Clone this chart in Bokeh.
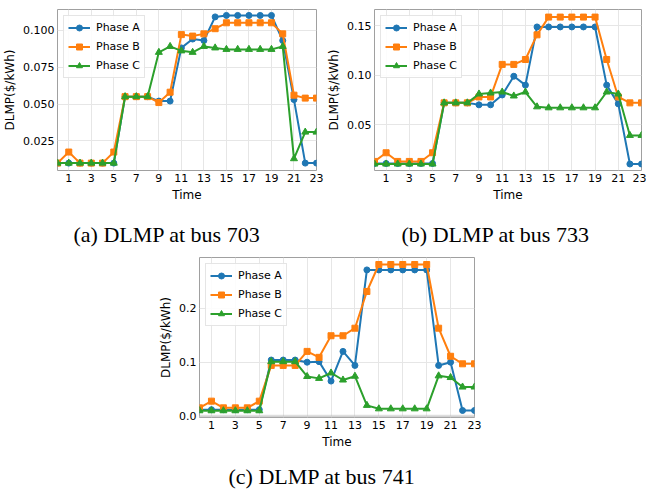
from bokeh.plotting import figure
from bokeh.models import FixedTicker, NumeralTickFormatter, Title, Span, Spacer
from bokeh.layouts import column, row
from bokeh.embed import file_html
from bokeh.resources import INLINE

hours = list(range(24))
x_ticks = [1, 3, 5, 7, 9, 11, 13, 15, 17, 19, 21, 23]

# DLMP at bus 703 ($/kWh)
bus703_A = [0.010, 0.010, 0.010, 0.010, 0.010, 0.010, 0.055, 0.055, 0.055, 0.052, 0.052, 0.088,
            0.094, 0.093, 0.109, 0.110, 0.110, 0.110, 0.110, 0.110, 0.093, 0.053, 0.010, 0.010]
bus703_B = [0.010, 0.0175, 0.010, 0.010, 0.010, 0.0175, 0.055, 0.055, 0.055, 0.051, 0.058, 0.097,
            0.096, 0.0975, 0.101, 0.105, 0.105, 0.105, 0.105, 0.105, 0.0975, 0.056, 0.054, 0.054]
bus703_C = [0.010, 0.010, 0.010, 0.010, 0.010, 0.010, 0.055, 0.055, 0.055, 0.085, 0.089, 0.086,
            0.085, 0.089, 0.088, 0.087, 0.087, 0.087, 0.087, 0.087, 0.089, 0.013, 0.031, 0.031]

# DLMP at bus 733
bus733_A = [0.0105, 0.0105, 0.0105, 0.0105, 0.0105, 0.0105, 0.072, 0.072, 0.072, 0.070, 0.070, 0.080,
            0.099, 0.090, 0.149, 0.149, 0.149, 0.149, 0.149, 0.149, 0.090, 0.071, 0.010, 0.010]
bus733_B = [0.0126, 0.0214, 0.0126, 0.0126, 0.0126, 0.0214, 0.072, 0.072, 0.072, 0.078, 0.078, 0.111,
            0.111, 0.116, 0.141, 0.159, 0.159, 0.159, 0.159, 0.159, 0.116, 0.078, 0.072, 0.072]
bus733_C = [0.010, 0.010, 0.010, 0.010, 0.010, 0.010, 0.072, 0.072, 0.072, 0.081, 0.082, 0.083,
            0.079, 0.083, 0.068, 0.067, 0.067, 0.067, 0.067, 0.067, 0.083, 0.081, 0.039, 0.039]

# DLMP at bus 741
bus741_A = [0.012, 0.012, 0.012, 0.012, 0.012, 0.012, 0.104, 0.104, 0.104, 0.100, 0.101, 0.065,
            0.120, 0.094, 0.271, 0.271, 0.271, 0.271, 0.271, 0.271, 0.094, 0.100, 0.0105, 0.0105]
bus741_B = [0.0154, 0.0278, 0.0154, 0.0154, 0.0154, 0.0278, 0.094, 0.094, 0.094, 0.120, 0.109, 0.149,
            0.149, 0.163, 0.231, 0.281, 0.281, 0.281, 0.281, 0.281, 0.163, 0.111, 0.097, 0.097]
bus741_C = [0.010, 0.010, 0.010, 0.010, 0.010, 0.010, 0.101, 0.101, 0.101, 0.0735, 0.070, 0.080,
            0.067, 0.074, 0.020, 0.0136, 0.0136, 0.0136, 0.0136, 0.0136, 0.0747, 0.0716, 0.054, 0.054]

y_ticks_703 = [0.025, 0.050, 0.075, 0.100]
y_ticks_733 = [0.05, 0.10, 0.15]
y_ticks_741 = [0.0, 0.1, 0.2]

captions = ["(a) DLMP at bus 703", "(b) DLMP at bus 733", "(c) DLMP at bus 741"]
phase_names = ["Phase A", "Phase B", "Phase C"]
colors = ["#1f77b4", "#ff7f0e", "#2ca02c"]
markers = ["circle", "square", "triangle"]
msizes = [6, 6, 7]

SANS = "DejaVu Sans"
SERIF = "Liberation Serif"


def make_panel(series, yr, yticks, fmt, caption, width, height, mb, cap_offset, gap_font,
               zero_band=False):
    p = figure(width=width, height=height, x_range=(0, 23), y_range=yr,
               output_backend="svg", toolbar_location=None,
               min_border_left=mb[0], min_border_right=mb[1],
               min_border_top=mb[2], min_border_bottom=mb[3])
    p.background_fill_color = "white"
    p.border_fill_color = "white"
    p.outline_line_color = "#a0a0a0"
    p.outline_line_width = 1

    for ax in (p.xaxis[0], p.yaxis[0]):
        ax.axis_line_color = None
        ax.major_tick_line_color = None
        ax.minor_tick_line_color = None
        ax.major_tick_out = 0
        ax.major_tick_in = 0
        ax.minor_tick_out = 0
        ax.minor_tick_in = 0
        ax.major_label_text_font = SANS
        ax.major_label_text_font_size = "11px"
        ax.major_label_text_color = "black"
        ax.major_label_standoff = 3
        ax.axis_label_text_font = SANS
        ax.axis_label_text_font_size = "12px"
        ax.axis_label_text_font_style = "normal"
        ax.axis_label_text_color = "black"
        ax.axis_label_standoff = 3

    p.xaxis.ticker = FixedTicker(ticks=x_ticks)
    p.yaxis.ticker = FixedTicker(ticks=yticks)
    p.yaxis.formatter = NumeralTickFormatter(format=fmt)
    p.xaxis.axis_label = "Time"
    p.yaxis.axis_label = "DLMP($/kWh)"

    p.xgrid.grid_line_color = "#e6e6e6"
    p.ygrid.grid_line_color = "#e6e6e6"

    if zero_band:
        p.add_layout(Span(location=0.0, dimension="width", line_color="#bdbdbd",
                          line_width=3, line_dash="1 1"))

    for vals, name, c, m, s in zip(series, phase_names, colors, markers, msizes):
        p.line(hours, vals, line_color=c, line_width=2, legend_label=name)
        p.scatter(hours, vals, marker=m, size=s, fill_color=c, line_color=c, legend_label=name)

    lg = p.legend[0]
    lg.location = "top_left"
    lg.margin = 6
    lg.padding = 4
    lg.spacing = 4
    lg.glyph_width = 22
    lg.glyph_height = 15
    lg.label_height = 15
    lg.label_standoff = 6
    lg.label_text_font = SANS
    lg.label_text_font_size = "11px"
    lg.label_text_color = "black"
    lg.border_line_color = "#cccccc"
    lg.background_fill_alpha = 0.85

    # blank spacer between the axis label and the sub-caption
    p.add_layout(Title(text=" ", standoff=0, text_font=SERIF, text_font_size=gap_font,
                       text_color="white"), "below")
    p.add_layout(Title(text=caption, align="left", offset=cap_offset, standoff=0,
                       vertical_align="top", text_font=SERIF, text_font_size="22px",
                       text_font_style="normal", text_color="black"), "below")
    return p


fa = make_panel([bus703_A, bus703_B, bus703_C], (0.005, 0.114), y_ticks_703, "0.000",
                captions[0], 324, 250, (55, 8, 9, 80), 16, "14px")
fb = make_panel([bus733_A, bus733_B, bus733_C], (0.0034, 0.1667), y_ticks_733, "0.00",
                captions[1], 322, 250, (49, 5, 9, 80), 27, "14px")
fc = make_panel([bus741_A, bus741_B, bus741_C], (-0.0025, 0.294), y_ticks_741, "0.0",
                captions[2], 334, 242, (49, 10, 7, 75), 29, "9px", zero_band=True)

layout = column(row(fa, fb), row(Spacer(width=150, height=242), fc))

open("out.html", "w").write(file_html(layout, INLINE))
